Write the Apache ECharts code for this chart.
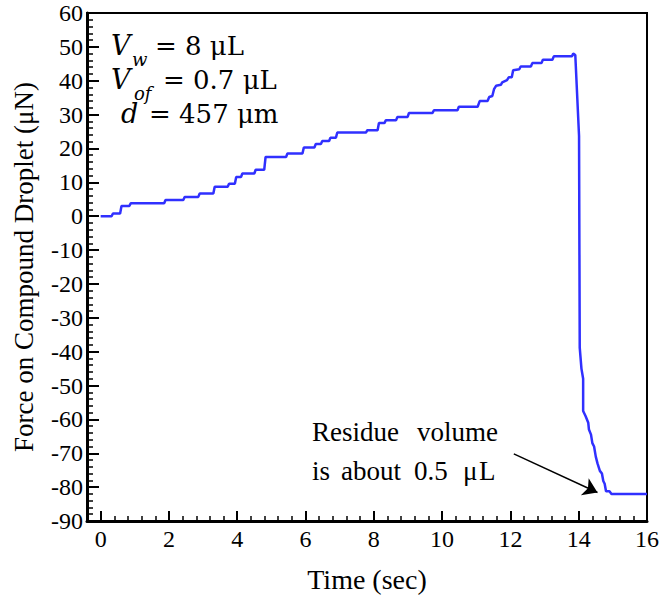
<!DOCTYPE html>
<html><head><meta charset="utf-8">
<script src="https://cdn.jsdelivr.net/npm/echarts@6/dist/echarts.min.js"></script>
<style>html,body{margin:0;padding:0;background:#fff}#c{width:664px;height:598px}</style>
</head><body><div id="c"></div>
<script>
// Time (sec)
const time = [0, 0.32, 0.36, 0.57, 0.61, 0.84, 0.88, 1.86, 1.9, 2.42, 2.46, 2.86, 2.9, 3.30, 3.34, 3.72, 3.76, 3.93, 3.97, 4.11, 4.15, 4.50, 4.54, 4.79, 4.83, 5.43, 5.47, 5.91, 5.95, 6.26, 6.30, 6.45, 6.49, 6.69, 6.73, 6.89, 6.93, 7.77, 7.81, 8.11, 8.15, 8.31, 8.35, 8.65, 8.69, 8.99, 9.03, 9.72, 9.76, 10.45, 10.49, 11.04, 11.10, 11.33, 11.38, 11.47, 11.52, 11.58, 11.72, 11.76, 11.90, 11.95, 12.04, 12.08, 12.26, 12.30, 12.60, 12.64, 12.91, 12.95, 13.23, 13.27, 13.80, 13.84, 13.90, 14.01, 14.03, 14.08, 14.13, 14.13, 14.20, 14.28, 14.30, 14.36, 14.40, 14.45, 14.50, 14.55, 14.62, 14.68, 14.72, 14.76, 14.80, 14.90, 14.96, 16.0];
// Force on compound droplet (uN)
const force = [0, 0, 0.8, 0.8, 3.0, 3.0, 3.8, 3.8, 4.8, 4.8, 5.7, 5.7, 6.7, 6.7, 8.7, 8.7, 9.6, 9.6, 11.6, 11.6, 12.6, 12.6, 13.7, 13.7, 17.5, 17.5, 18.5, 18.5, 20.3, 20.3, 21.3, 21.3, 22.2, 22.2, 23.2, 23.2, 24.7, 24.7, 25.4, 25.4, 27.5, 27.5, 28.3, 28.3, 29.3, 29.3, 30.5, 30.5, 31.3, 31.3, 32.3, 32.3, 34.0, 34.0, 35.2, 35.5, 37.5, 38.5, 38.8, 39.5, 40.2, 41.0, 41.0, 43.1, 43.4, 44.2, 44.2, 45.2, 45.2, 46.2, 46.2, 47.2, 47.2, 48.0, 47.6, 23.7, -38.8, -45.0, -48.0, -57.5, -59.0, -61.0, -63.0, -64.5, -67.0, -68.0, -71.0, -73.0, -75.2, -76.0, -78.2, -79.0, -81.2, -81.2, -82.0, -82.0];
const xTicks = [0, 2, 4, 6, 8, 10, 12, 14, 16];
const yTicks = [-90, -80, -70, -60, -50, -40, -30, -20, -10, 0, 10, 20, 30, 40, 50, 60];
const arrowFrom = [12.1, -70.2];
const arrowTo = [14.55, -81.6];

const serif = "'Liberation Serif', 'Times New Roman', serif";
const chart = echarts.init(document.getElementById('c'), null, {renderer: 'svg'});
const option = {
  animation: false,
  backgroundColor: '#fff',
  grid: {left: 87, right: 17, top: 13, bottom: 77, show: true, borderColor: '#000', borderWidth: 2, outerBoundsMode: 'none'},
  xAxis: [{
    type: 'value', min: -0.4, max: 16, interval: 0.4,
    name: 'Time (sec)', nameLocation: 'middle', nameGap: 44,
    nameTextStyle: {fontFamily: serif, fontSize: 28, color: '#000'},
    axisLine: {show: true, onZero: false, lineStyle: {color: '#000', width: 3}},
    axisTick: {show: true, inside: true, length: 10, customValues: xTicks, lineStyle: {color: '#000', width: 2}},
    axisLabel: {customValues: xTicks, fontFamily: serif, fontSize: 24, color: '#000', margin: 6},
    splitLine: {show: false}
  }, {
    type: 'value', min: -0.4, max: 16, interval: 0.4, position: 'bottom',
    axisLine: {show: false, onZero: false},
    axisTick: {show: true, inside: true, length: 5, lineStyle: {color: '#000', width: 1.5}},
    axisLabel: {show: false},
    splitLine: {show: false}
  }],
  yAxis: {
    type: 'value', min: -90, max: 60, interval: 10,
    name: 'Force on Compound Droplet (μN)', nameLocation: 'middle', nameGap: 50,
    nameTextStyle: {fontFamily: serif, fontSize: 27, color: '#000'},
    axisLine: {show: true, onZero: false, lineStyle: {color: '#000', width: 3}},
    axisTick: {show: true, inside: true, length: 12, lineStyle: {color: '#000', width: 2}},
    minorTick: {show: true, splitNumber: 5, length: 6, lineStyle: {color: '#000', width: 1.5}},
    axisLabel: {fontFamily: serif, fontSize: 24, color: '#000', margin: 4,
      formatter: v => yTicks.indexOf(v) >= 0 ? String(v) : ''},
    splitLine: {show: false}, minorSplitLine: {show: false}
  },
  series: [{
    type: 'line', xAxisIndex: 0, showSymbol: false, symbol: 'none',
    data: time.map((t, i) => [t, force[i]]),
    lineStyle: {color: '#3030ff', width: 2.5},
    markLine: {
      silent: true, symbol: ['none', 'arrow'], symbolSize: 14,
      label: {show: false},
      lineStyle: {color: '#000', width: 1.5, type: 'solid'},
      data: [[{coord: arrowFrom}, {coord: arrowTo}]]
    }
  }]
};
chart.setOption(option);

const g = [];
function txt(x, y, s, font, align) {
  g.push({type: 'text', x: x, y: y, style: {text: s, font: font, fill: '#000', textAlign: align || 'left', textVerticalAlign: 'middle'}});
}
const gl = 87, gt = 13;
const ital = 'italic 27px "DejaVu Serif"';
const up = '26px "DejaVu Serif"';
const sub = 'italic 18px "DejaVu Serif"';
// line 1
txt(gl + 24, gt + 32, 'V', ital);
txt(gl + 45, gt + 46, 'w', sub);
txt(gl + 68, gt + 33, '= 8 μL', up);
// line 2
txt(gl + 24, gt + 66, 'V', ital);
txt(gl + 47, gt + 80, 'of', sub);
txt(gl + 76, gt + 67, '= 0.7 μL', up);
// line 3
txt(gl + 34, gt + 100, 'd', ital);
txt(gl + 62, gt + 101, '= 457 μm', up);

// residue annotation, words placed relative to a data anchor
const p1 = chart.convertToPixel({gridIndex: 0}, [6.19, -63.7]);
const p2 = chart.convertToPixel({gridIndex: 0}, [6.19, -75.3]);
const ann = "27px 'Liberation Serif'";
txt(p1[0], p1[1], 'Residue', ann);
txt(p1[0] + 105, p1[1], 'volume', ann);
txt(p2[0], p2[1], 'is', ann);
txt(p2[0] + 29, p2[1], 'about', ann);
txt(p2[0] + 102, p2[1], '0.5', ann);
txt(p2[0] + 151, p2[1], 'μ', ann);
txt(p2[0] + 167, p2[1], 'L', ann);
chart.setOption({graphic: g});
</script>
</body></html>
